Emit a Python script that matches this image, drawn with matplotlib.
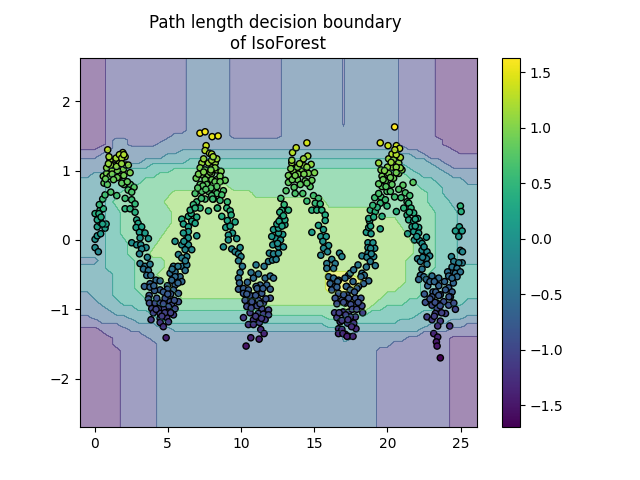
import numpy as np
import matplotlib
matplotlib.use("Agg")
import matplotlib.pyplot as plt

# Points, one list per stretch of the wave
hump_1 = [(.04,-.11),(.26,-.17),(.04,.01),(.19,.06),(.42,.09),(.19,.19),(.72,.17),(.42,.25),(.79,.23),(.19,.29),
          (.04,.38),(.38,.43),(.6,.45),(.33,.51),(.56,.59),(.72,.65),(1.11,.69),(1.52,.64),(.65,.82),(.88,.80),
          (.6,.92),(.83,.96),(1.06,.92),(1.33,.99),(1.74,.92),(2.43,.97),(1.97,1.02),(1.56,1.0),(1.17,1.02),(.83,1.04),
          (1.29,1.08),(1.7,1.11),(2.15,1.08),(1.06,1.15),(1.47,1.18),(1.93,1.26),(1.7,1.23),(2.09,1.2),(.99,1.2),(.9,1.3),
          (1.86,1.18),(2.31,1.08),(1.1,1.08),(1.5,1.06),(1.85,1.1),(1.2,.95),(1.55,.9),(2.0,.93),(.75,.88),(1.3,.87),
          (2.0,.8),(2.45,.8),(2.3,.72),(2.0,1.23),(.95,1.1),(.3,.38),(.45,.33),(.55,.23)]
fall_1 = [(1.86,.82),(2.24,.84),(2.70,.76),(2.54,.69),(2.09,.60),(2.54,.58),(2.77,.52),(2.09,.45),(2.43,.45),(2.77,.40),
          (2.88,.29),(2.98,.24),(2.84,.18),(3.22,.19),(3.07,.11),(3.45,.10),(3.68,.02),(3.11,.03),(2.54,-.04),(2.88,-.07),
          (3.16,-.07),(3.52,-.11),(3.22,-.13),(3.07,-.20),(3.61,-.25),(3.11,-.34),(3.45,-.38),(3.79,-.35),(3.34,-.42),(3.68,-.44),
          (3.57,-.51),(3.84,-.51),(4.20,-.58),(4.48,-.59),(3.79,-.63),(3.41,-.67),(3.79,-.68),(4.98,-.66),(5.50,-.65),(5.39,-.72),
          (5.73,-.77),(4.98,-.71),(4.48,-.72),(3.73,-.80),(3.68,-.85),(3.75,-.91),(4.14,-.91),(4.48,-.91),(4.82,-.84),(5.16,-.89),
          (5.73,-.89),(5.27,-.94),(5.05,-.96),(4.70,-.99),(4.36,-.99),(3.91,-.99),(4.02,-1.05),(4.48,-1.06),(5.05,-1.04),(5.50,-.99),
          (5.39,-1.08),(4.93,-1.12),(4.48,-1.13),(3.86,-1.15),(4.48,-1.19),(5.05,-1.18),(4.70,-1.25),(4.89,-1.41),(4.1,-.73),(4.7,-.75),
          (5.2,-.78),(4.25,-.84),(4.7,-.92),(5.45,-.87),(4.2,-1.0),(4.8,-1.05),(5.2,-1.05),(4.6,-1.1),(5.0,-.78),(4.05,-.66)]
rise_2 = [(5.50,-.02),(5.96,.30),(6.41,.34),(6.98,.33),(6.64,.27),(6.07,.23),(6.41,.19),(6.87,.24),(6.41,.12),(6.07,.10),
          (6.98,.06),(6.25,0),(5.96,-.07),(6.41,-.07),(6.64,-.14),(6.19,-.14),(5.73,-.21),(6.30,-.24),(5.96,-.26),(5.96,-.38),
          (6.30,-.36),(5.39,-.38),(5.16,-.48),(5.50,-.46),(5.84,-.53),(6.19,-.44),(5.50,-.53),(5.96,-.60),(5.27,-.58),(6.6,.38),
          (6.4,.03),(6.1,-.02),(6.2,-.3),(5.7,-.38),(5.3,-.42),(5.7,-.62)]
hump_2 = [(7.62,1.36),(7.55,1.29),(7.85,1.25),(7.33,1.11),(7.78,1.11),(8.24,1.11),(7.21,1.04),(7.55,1.01),(8.01,1.04),(8.35,1.01),
          (7.33,.94),(7.78,.94),(6.94,.89),(7.55,.87),(8.01,.87),(8.35,.87),(7.21,.80),(7.67,.80),(8.12,.80),(6.87,.67),
          (7.33,.70),(7.78,.70),(8.24,.72),(7.55,.59),(8.12,.59),(6.98,.55),(6.75,.51),(7.21,.46),(7.78,.42),(8.40,.46),
          (6.53,.43),(6.87,.46),(7.2,1.54),(7.55,1.56),(8.03,1.49),(8.44,1.50),(8.0,1.24),(8.35,1.17),(8.0,1.15),(8.23,1.04),
          (8.64,.99),(8.0,.96),(8.57,.92),(8.92,.86),(8.23,.84),(8.57,.84),(8.35,.77),(8.80,.71),(8.35,.67),(8.69,.65),
          (7.1,.95),(7.45,.98),(7.9,.98),(7.4,.78),(7.95,.75),(7.05,.75),(7.6,.73),(8.0,.64),(7.45,1.17),(8.1,1.2),
          (7.95,1.01),(7.3,.6)]
fall_2 = [(8.07,.59),(9.07,.55),(8.57,.57),(8.39,.46),(9.03,.46),(9.26,.42),(8.69,.34),(9.33,.36),(9.07,.28),(9.6,.26),
          (8.96,.18),(9.26,.20),(9.42,.10),(9.14,.07),(9.71,.02),(9.14,0),(8.8,-.10),(9.37,-.13),(9.94,-.11),(9.6,-.17),
          (9.83,-.20),(10.0,-.24),(9.83,-.30),(10.1,-.38),(9.94,-.47),(9.83,-.55),(11.03,-.36),(11.58,-.38),(10.69,-.47),(11.19,-.49),
          (10.85,-.55),(11.65,-.55),(12.0,-.52),(12.22,-.55),(10.44,-.61),(11.31,-.65),(11.76,-.65),(12.0,-.71),(11.03,-.67),(9.83,-.71),
          (10.17,-.70),(10.51,-.72),(10.17,-.77),(10.81,-.81),(11.42,-.77),(10.28,-.87),(10.74,-.89),(11.19,-.87),(12.0,-.84),(11.53,-.91),
          (10.4,-.96),(11.42,-.99),(11.88,-1.01),(10.62,-1.05),(11.19,-1.06),(11.53,-1.07),(11.88,-1.08),(10.17,-1.12),(10.85,-1.15),(11.26,-1.19),
          (11.65,-1.15),(10.51,-1.22),(10.85,-1.22),(11.35,-1.29),(11.58,-1.35),(10.67,-1.41),(11.24,-1.43),(10.35,-1.53),(10.6,-.8),(11.0,-.8),
          (10.7,-.98),(11.1,-.95),(11.1,-.7),(11.5,-.7),(11.7,-.85),(11.0,-1.1),(11.4,-1.13),(11.3,-.92),(10.4,-.78),(9.9,-.62)]
rise_3 = [(11.88,-.31),(12.15,-.29),(12.40,-.28),(11.94,-.19),(12.22,-.20),(12.56,-.19),(12.17,-.07),(12.56,-.10),(12.9,-.10),(12.38,.02),
          (12.10,.05),(12.85,.08),(12.56,.10),(12.22,.15),(12.56,.17),(13.0,.22),(12.45,.23),(12.72,.30),(13.0,.29),(13.24,.43),
          (12.79,.43),(12.95,.51),(12.72,.60),(13.08,.71),(13.63,.76),(13.7,.67),(14.22,.67),(14.5,.56),(13.24,.83),(13.86,.87),
          (14.38,.85),(14.84,.86),(14.72,.77),(13.24,.93),(13.58,.99),(14.15,.99),(14.61,.96),(15.02,.97),(13.86,1.05),(13.47,1.11),
          (14.31,1.07),(14.79,1.09),(13.52,1.26),(13.77,1.33),(14.5,1.40),(14.56,1.21),(14.27,1.17),(13.47,1.15),(13.4,1.03),(13.9,.95),
          (14.3,.95),(14.5,1.05),(14.0,1.1),(13.5,.87),(14.05,.8),(14.5,.82),(13.7,.93),(12.65,.4),(12.9,.35),(12.7,.0),
          (12.6,.27),(12.5,-.05),(12.8,.2)]
fall_3 = [(14.95,.64),(15.29,.60),(15.07,.53),(15.41,.52),(14.84,.43),(15.18,.43),(15.52,.43),(15.75,.36),(15.75,.28),(15.29,.21),
          (15.63,.15),(14.84,.11),(15.45,.05),(15.82,.05),(15.59,-.02),(15.98,-.08),(15.64,-.12),(15.45,-.22),(15.91,-.17),(16.73,-.19),
          (16.2,-.28),(15.86,-.34),(16.43,-.34),(15.86,-.41),(16.32,-.41),(17.34,-.51),(15.98,-.53),(16.32,-.55),(16.66,-.58),(16.09,-.63),
          (16.43,-.67),(17.23,-.67),(16.2,-.72),(16.66,-.77),(16.43,-.84),(16.89,-.87),(17.23,-.79),(16.55,-.92),(17.0,-1.04),(16.39,-1.05),
          (16.55,-1.12),(16.77,-1.18),(16.66,-1.28),(16.66,-1.35),(17.12,-1.36),(17.34,-1.39),(16.89,-.24),(17.46,-.48),(17.69,-.43),(17.99,-.36),
          (18.26,-.48),(18.42,-.51),(18.19,-.53),(18.72,-.59),(18.37,-.63),(18.03,-.67),(17.19,-.67),(17.46,-.72),(17.92,-.70),(17.01,-.79),
          (17.35,-.84),(17.81,-.84),(18.19,-.84),(17.12,-.91),(17.69,-.94),(18.26,-.95),(17.35,-1.04),(16.96,-1.04),(17.81,-1.11),(18.31,-1.05),
          (17.46,-1.11),(16.89,-1.16),(17.28,-1.20),(17.85,-1.28),(16.89,-1.29),(16.96,-1.35),(17.24,-1.39),(17.65,-1.39),(16.6,-.6),(17.0,-.9),
          (17.5,-.93),(17.6,-1.0),(17.15,-1.08),(17.65,-.6),(17.75,-.75),(17.3,-1.15),(16.7,-1.05),(17.7,-1.2),(17.1,-.55),(17.9,-1.0),
          (18.0,-.9),(17.55,-1.25),(16.55,-.68)]
rise_4 = [(19.51,.16),(19.63,.34),(18.56,.11),(18.88,.09),(18.72,.18),(18.78,.27),(18.72,.31),(18.83,.43),(19.17,.41),(19.06,.33),
          (18.67,-.04),(19.01,-.04),(19.13,-.12),(18.67,-.11),(18.26,-.23),(18.67,-.19),(19.06,-.24),(18.6,-.25),(18.83,-.31),(19.17,-.37),
          (18.56,-.39),(19.13,.61),(19.56,.62),(19.51,.53),(19.97,.49),(19.86,.58),(19.63,.77),(19.97,.70),(19.4,.81),(19.86,.85),
          (20.31,.80),(19.63,.92),(20.01,.94),(20.42,.89),(19.56,1.01),(20.08,.96),(20.77,.96),(20.99,1.01),(19.4,1.11),(20.08,1.17),
          (20.42,1.16),(20.77,1.11),(20.88,1.19),(20.88,1.04),(20.31,1.24),(19.51,1.40),(20.04,1.36),(20.61,1.36),(20.83,1.32),(20.49,1.63),
          (20.3,1.05),(20.6,1.05),(20.0,1.05),(20.25,1.12),(20.6,1.23),(20.5,1.3),(20.2,.9),(19.8,1.0),(20.6,.97),(19.7,.87),
          (19.9,.77),(20.2,.7),(19.4,.67),(19.3,.47),(19.0,.5),(18.85,.2),(18.85,-.12),(18.9,-.2)]
fall_4 = [(21.75,.83),(21.06,.79),(20.77,.73),(20.49,.62),(21.22,.68),(21.52,.64),(20.93,.61),(21.34,.55),(21.45,.53),(20.61,.41),
          (21.11,.46),(21.61,.46),(21.79,.39),(21.34,.36),(22.06,.31),(21.45,.29),(21.79,.27),(21.68,.19),(22.13,.18),(21.38,.09),
          (21.79,.12),(22.13,.10),(22.66,.04),(21.84,0),(22.2,-.01),(22.36,-.05),(22.36,-.15),(22.7,-.17),(22.06,-.27),(22.88,-.23),
          (22.66,-.27),(22.25,-.31),(22.7,-.35),(22.36,-.42),(22.25,-.51),(22.48,-.53),(22.13,-.57),(22.66,-.57),(23.04,-.52),(23.5,-.55),
          (22.75,-.66),(23.5,-.66),(23.11,-.75),(22.52,-.78),(23.61,-.79),(23.04,-.82),(24.18,-.69),(24.41,-.75),(23.96,-.72),(24.3,-.82),
          (23.38,-.91),(22.59,-.90),(23.04,-.94),(23.84,-.89),(24.18,-.94),(24.53,-.91),(23.39,-.99),(24.64,-1.0),(23.96,-1.06),(23.27,-1.06),
          (22.7,-1.11),(23.04,-1.15),(23.61,-1.17),(23.43,-1.24),(24.25,-1.24),(23.16,-1.35),(23.43,-1.40),(23.34,-1.47),(23.39,-1.53),(23.61,-1.70),
          (21.5,.4),(21.9,.3),(21.9,.2),(22.0,.05),(22.5,-.1),(22.4,-.25),(22.9,-.6),(23.2,-.6),(23.3,-.75),(23.25,-.9),
          (23.6,-.95),(22.9,-.85),(23.7,-1.05),(23.5,-.8),(24.2,-.82),(23.9,-.6),(24.5,-.62),(23.2,-1.1),(24.3,-.45)]
rise_5 = [(24.98,.49),(25.03,.41),(24.91,.19),(24.64,.13),(25.1,.13),(24.87,.05),(24.98,-.15),(25.12,-.17),(24.37,-.24),(24.53,-.31),
          (25.1,-.33),(24.87,-.33),(24.41,-.39),(24.75,-.41),(24.11,-.46),(24.64,-.48),(24.98,-.46),(24.18,-.52),(24.75,-.53),(24.41,-.55)]

# Band of the background read at each grid node (0 = darkest corner, 7 = brightest)
grid_y = [2.63, 1.70, 1.58, 1.50, 1.44, 1.38, 1.33, 1.27, 1.21, 1.13, 1.07, 1.00, .94, .85, .75, .68, .55, .40, .25, .10,
          -.05, -.20, -.30, -.40, -.50, -.60, -.70, -.80, -.90, -.98, -1.05, -1.12, -1.16, -1.24, -1.28, -1.36, -1.42,
          -1.50, -1.60, -2.71]
grid_rows = [
    "00001 11111 11111 22222 21111 11122 22222 21222 22221 11110 00000",
    "00001 11111 11111 22222 21111 11122 22222 21222 22221 11110 00000",
    "00001 11111 11111 22222 21111 11122 22222 22222 22221 11110 00000",
    "00001 11111 11122 22222 21111 11122 22222 22222 22221 11110 00000",
    "00001 22111 11222 22222 22222 22222 22222 22222 22221 11111 00000",
    "00001 22111 12222 22222 22222 22222 22222 22222 22221 11111 00000",
    "00011 22222 22222 22222 22222 22222 22222 22222 22222 11111 10000",
    "11112 22222 22223 33333 33333 33333 33333 33333 33332 22111 11000",
    "11122 22222 22333 33333 33333 33333 33333 33333 33333 32211 11111",
    "22222 22223 33333 44444 44444 44444 44444 44444 44443 33322 11111",
    "22222 22333 44444 44444 44444 44444 44444 44444 44444 33332 21111",
    "22223 34444 44455 55555 55555 55555 55555 55555 55544 43333 22222",
    "22333 44444 45555 55555 55555 55555 55555 55555 55555 44333 32222",
    "33334 44445 55555 55555 55555 55555 55555 55555 55555 54443 33322",
    "33334 44555 55555 55566 65555 55555 55555 55555 55555 55444 33333",
    "33334 45555 55566 66666 66665 55555 55555 55555 55555 55544 33333",
    "33334 55555 55666 66666 66666 66666 66665 55555 55555 55544 43333",
    "33334 45555 55566 66666 66666 66666 66666 66666 65555 55554 44333",
    "33334 45555 55566 66666 66666 66666 66666 66666 66665 55554 44333",
    "33334 45555 55666 66666 66666 66666 66666 66666 66666 55554 44333",
    "33334 44555 56666 66666 66666 66666 66666 66666 66666 65554 44333",
    "33334 44555 66666 66666 66666 66666 66666 66666 66666 65554 44333",
    "22234 44455 55666 66666 66666 66666 66666 66666 66666 55554 44333",
    "33334 44455 55666 66666 66666 66666 66666 66666 66666 55554 44444",
    "33333 44455 56666 66666 66666 66666 66667 77766 66666 55544 44444",
    "33333 44455 55666 66666 66666 66666 66667 77776 66666 55444 44444",
    "33333 44455 55566 66666 66666 66666 66667 77766 66665 55444 44444",
    "22333 44445 55556 66666 66666 66666 66666 66666 66555 55444 44444",
    "22233 34444 45555 55555 55555 66666 66666 66666 65555 44444 44433",
    "22223 33344 44455 55555 55555 55555 55555 55666 55444 44443 33333",
    "22222 33333 44444 44444 44444 55555 55555 55555 44444 44333 33333",
    "11222 22333 34444 44444 44444 44444 44445 55444 44444 43333 33322",
    "11122 22233 33444 44444 44444 44444 44444 44444 44443 33333 32222",
    "11111 12222 23333 33333 33333 33333 33334 44333 33333 33322 22211",
    "00011 11222 22233 33333 33333 33333 33333 33333 33333 33222 21111",
    "00001 11112 22222 22222 22222 22222 22222 23322 22222 22111 11111",
    "00000 11111 22222 22222 22222 22222 22222 23322 22222 11111 10000",
    "00000 11111 12222 22222 22222 22222 22222 22222 22211 11111 10000",
    "00000 01111 12222 22222 22222 22222 22222 22222 21111 11111 10000",
    "00000 01111 12222 22222 22222 22222 22222 22222 21111 11111 10000",
]
grid_x = [-1 + .5 * i for i in range(54)] + [26.2]
# the thin sliver near x=17 needs tighter columns
grid_x[35] = 16.85
grid_x[37] = 17.15

points = np.array(hump_1 + fall_1 + rise_2 + hump_2 + fall_2 + rise_3 + fall_3 + rise_4 + fall_4 + rise_5)
Z = np.array([[int(c) for c in row.replace(" ", "")] for row in grid_rows], dtype=float)

fig, ax = plt.subplots()
band_edges = np.arange(-.5, 8)
ax.contourf(grid_x, grid_y, Z, levels=band_edges, cmap="viridis", alpha=.5)
ax.contour(grid_x, grid_y, Z, levels=band_edges[1:-1], cmap="viridis", vmin=-.5, vmax=7.5, alpha=.4, linewidths=.6)
sc = ax.scatter(points[:, 0], points[:, 1], c=points[:, 1], s=20, edgecolors="k")
ax.set_xlim(-.99, 26.1)
ax.set_ylim(-2.7, 2.63)
ax.set_title("Path length decision boundary \nof IsoForest")
fig.colorbar(sc, ax=ax)
fig.savefig("out.png", dpi=100)
